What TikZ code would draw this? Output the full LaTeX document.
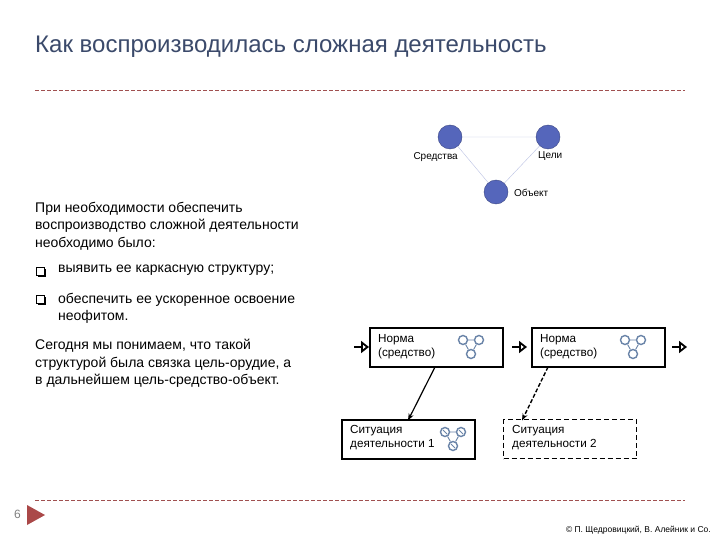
\documentclass[tikz,border=0pt]{standalone}
\usepackage{fontspec}
\setmainfont{Liberation Sans}
\usetikzlibrary{arrows.meta}
\definecolor{ttl}{HTML}{3B4A6B}
\definecolor{rl}{HTML}{A05050}
\definecolor{ball}{HTML}{5566BB}
\definecolor{ic}{HTML}{6A84A8}
\begin{document}
\begin{tikzpicture}[x=1pt,y=-1pt,
 txt/.style={font=\fontsize{14}{17.5}\selectfont,align=left,anchor=north west,inner sep=0pt},
 sm/.style={font=\fontsize{10}{11}\selectfont,inner sep=1pt},
 ball/.style={circle,fill=ball,draw=ball!70!black,minimum size=24pt,inner sep=0pt},
 box/.style={draw,line width=2pt,minimum width=133pt,minimum height=39pt,inner sep=0pt},
 btxt/.style={font=\fontsize{11.7}{14.5}\selectfont,align=left,anchor=north west,inner sep=0pt},
 ic/.style={circle,draw=ic,line width=1.4pt,minimum size=9pt,inner sep=0pt},
 harr/.style={-{Triangle[open,length=8pt,width=12pt]},line width=1.8pt},
 rule/.style={rl,dash pattern=on 4pt off 2pt,line width=0.5pt}]
\useasboundingbox (0,0) rectangle (720,540);
\fill[white] (0,0) rectangle (720,540);
\node[anchor=west,inner sep=0pt,text=ttl,font=\fontsize{24}{26}\selectfont] (title) at (35,47) {Как воспроизводилась сложная деятельность};
\draw[rule] (35,90) -- (685,90);
\draw[rule] (35,500) -- (685,500);
% triangle
\node[ball] (s) at (450,137) {};
\node[ball] (c) at (548,137) {};
\node[ball] (o) at (496,192) {};
\draw[ball!40] (s) -- (c) (s) -- (o) (c) -- (o);
\node[sm,anchor=east] (ls) at (459,157) {Средства};
\node[sm,anchor=west] (lc) at (537,156) {Цели};
\node[sm,anchor=west] (lo) at (513,193) {Объект};
% text
\node[txt] (t1) at (35,202) {При необходимости обеспечить\\воспроизводство сложной деятельности\\необходимо было:};
\node[txt] (t2) at (58,265) {выявить ее каркасную структуру;};
\node[txt] (t3) at (58,293) {обеспечить ее ускоренное освоение\\неофитом.};
\foreach \y in {272,300}{\draw[line width=0.6pt] (36.5,\y-4.5) rectangle (44.5,\y+3.5); \fill (44.5,\y-3.5) rectangle (46,\y+5); \fill (37.5,\y+3.5) rectangle (46,\y+5);}
\node[txt] (t4) at (35,339) {Сегодня мы понимаем, что такой\\структурой была связка цель-орудие, а\\в дальнейшем цель-средство-объект.};
% boxes
\node[box] (n1) at (436.5,347.5) {};
\node[box] (n2) at (598.5,347.5) {};
\node[box] (s1) at (408.5,439) {};
\node[box,line width=1.6pt,dash pattern=on 5pt off 3pt] (s2) at (570,439) {};
\node[btxt] at (378,334) {Норма\\(средство)};
\node[btxt] at (540,334) {Норма\\(средство)};
\node[btxt] at (350,425) {Ситуация\\деятельности 1};
\node[btxt] at (512,425) {Ситуация\\деятельности 2};
\foreach \x/\y in {463/340, 625/340, 445/432}{
 \node[ic] (a\x) at (\x,\y) {}; \node[ic] (b\x) at (\x+16,\y) {}; \node[ic] (d\x) at (\x+8,\y+14) {};
 \draw[ic,line width=0.9pt] (a\x)--(b\x) (a\x)--(d\x) (b\x)--(d\x);}
\foreach \x in {445}{\draw[ic,line width=1pt] (\x-2,430)--(\x+2,434) (\x+14,430)--(\x+18,434) (\x+6,444)--(\x+10,448);}
\coordinate (h1) at (354,347); \coordinate (h1e) at (369,347);
\coordinate (h2) at (512,347); \coordinate (h2e) at (527,347);
\coordinate (h3) at (672,347); \coordinate (h3e) at (687,347);
\draw[harr] (h1)--(h1e); \draw[harr] (h2)--(h2e); \draw[harr] (h3)--(h3e);
\draw[-{Stealth[length=7pt]},line width=1.2pt] (435,367) -- (408,420.5);
\draw[-{Stealth[length=7pt]},line width=1.4pt,dash pattern=on 4pt off 2pt] (548,367) -- (522,420.5);
% footer
\node[anchor=west,inner sep=0pt,font=\fontsize{12}{13}\selectfont,text=gray] (pg) at (14,514) {6};
\fill[rl!90!red] (27,505) -- (45,515) -- (27,525) -- cycle;
\node[anchor=east,inner sep=0pt,font=\fontsize{8.5}{10}\selectfont] (cp) at (711,530) {© П. Щедровицкий, В. Алейник и Co.};
\end{tikzpicture}
\end{document}
